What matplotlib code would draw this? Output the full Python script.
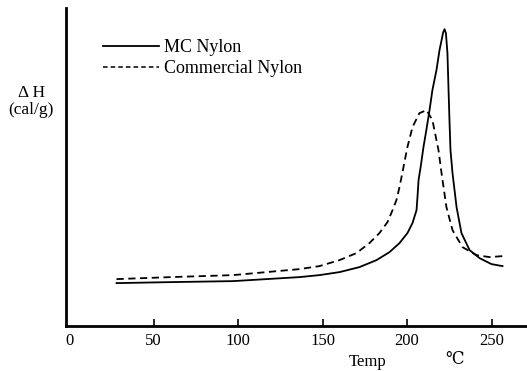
import matplotlib.pyplot as plt
from matplotlib.lines import Line2D

# ---- values (arbitrary ΔH units) ----
temp_mc = [28, 60, 97, 136.3, 148.1, 160.0, 171.8, 181.9, 189.6, 195.5,
           200.2, 203.2, 205.6, 206.2, 206.8, 208.2, 209.7, 211.5, 213.3,
           215.0, 217.4, 219.2, 221.4, 222.2, 223.0, 223.9, 224.5, 225.1,
           225.7, 226.9, 229.3, 232.2, 237.0, 242.9, 250.0, 256.5]
dh_mc = [47, 48, 49, 53, 55, 58, 63, 70, 78, 87,
         97, 107, 120, 134, 150, 165, 183, 201, 220,
         240, 260, 280, 298, 301, 297, 277, 243, 210,
         180, 157, 123, 97, 80, 72, 66, 64]

temp_com = [28, 60, 97, 136.3, 148.1, 160.0, 170.0, 177.7, 183.6, 188.4,
            191.4, 193.7, 195.5, 196.7, 200.2, 203.2, 207.3, 211.5, 215.0,
            217.4, 218.6, 220.4, 223.3, 226.9, 232.8, 241.1, 248.8, 256.5]
dh_com = [51, 53, 55, 61, 64, 70, 77, 87, 97, 108,
          120, 130, 143, 153, 183, 203, 217, 220, 210,
          190, 180, 157, 123, 100, 83, 75, 73, 74]

xticks = [50, 100, 150, 200, 250]
xlabels = ["0", "50", "100", "150", "200", "250"]

plt.rcParams["font.family"] = ["Liberation Serif", "DejaVu Serif"]

fig = plt.figure(figsize=(5.27, 3.71), dpi=100)
ax = fig.add_axes([0.125, 0.121, 0.875, 0.857])

ax.plot(temp_mc, dh_mc, color="black", lw=1.3, label="MC Nylon")
ax.plot(temp_com, dh_com, color="black", lw=1.3, ls=(0, (4, 2.5)),
        label="Commercial Nylon")

ax.set_xlim(-2, 271)
ax.set_ylim(4, 322)

for s in ["top", "right"]:
    ax.spines[s].set_visible(False)
ax.spines["left"].set_linewidth(2.0)
ax.spines["bottom"].set_linewidth(2.0)

ax.set_xticks(xticks)
ax.set_xticklabels([])
ax.tick_params(axis="x", direction="in", length=5, width=1.2)
ax.set_yticks([])

# tick labels, a bit below the axis like in the scan
for v, lab in zip([0] + xticks, xlabels):
    ax.annotate(lab, xy=(v, 0), xycoords=("data", "axes fraction"),
                xytext=(0, -11), textcoords="offset points",
                ha="center", va="center", fontsize=12)

fig.text(0.698, 0.024, "Temp", ha="center", va="center", fontsize=12)
fig.text(0.863, 0.030, "℃", ha="center", va="center", fontsize=12)
fig.text(0.059, 0.749, "Δ H", ha="center", va="center", fontsize=12.5)
fig.text(0.059, 0.703, "(cal/g)", ha="center", va="center", fontsize=12.5)

handles = [Line2D([], [], color="black", lw=1.3),
           Line2D([], [], color="black", lw=1.1, ls=(0, (3, 2)))]
ax.legend(handles, ["MC Nylon", "Commercial Nylon"], loc="upper left",
          bbox_to_anchor=(0.178, 0.918), bbox_transform=fig.transFigure,
          frameon=False, fontsize=13, handlelength=3.1, handletextpad=0.3,
          labelspacing=0.2, borderpad=0)

fig.savefig("out.png", dpi=100)
